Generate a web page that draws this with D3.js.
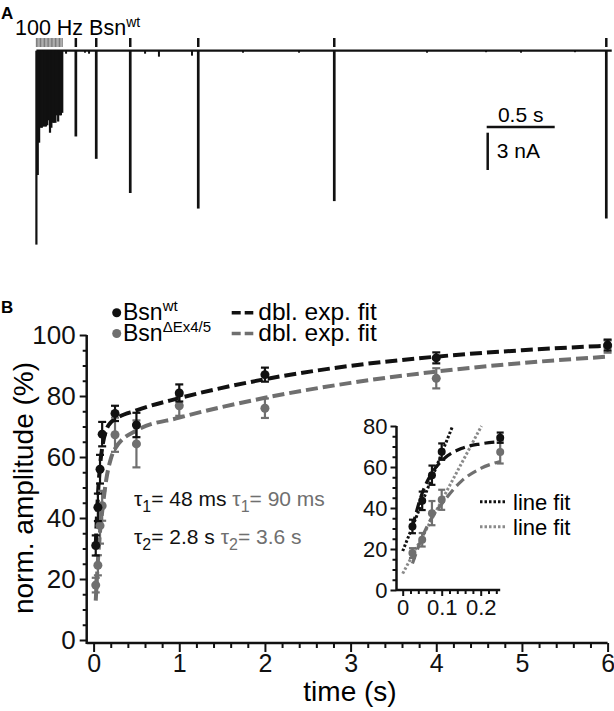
<!DOCTYPE html>
<html><head><meta charset="utf-8">
<script src="https://cdn.jsdelivr.net/npm/d3@7"></script>
<style>
body{margin:0;background:#fff}
svg{display:block}
text{font-family:"Liberation Sans",Arial,Helvetica,sans-serif}
</style>
</head><body>
<svg id="chart" width="614" height="711"></svg>
<script>
// ---------------- Panel A data (trace) ----------------
const trainTimes = [0,0.01,0.02,0.03,0.04,0.05,0.06,0.07,0.08,0.09,0.10,0.11,0.12,0.13,0.14,0.15,0.16,0.17,0.18,0.19];
const trainAmps  = [15.6,10.0,7.4,6.2,6.2,6.1,6.1,6.1,6.0,5.6,6.6,6.2,5.8,5.8,5.8,5.2,5.7,5.2,5.2,5.0];
const recoveryIntervals = [0.1,0.25,0.5,1,2,4];
const recoveryAmps = [6.9,8.7,11.45,12.7,12.1,13.5];
const miniTimes = [0.218,0.357,0.387,0.799,0.901,1.144,1.519,1.931,2.872,3.306,3.563,3.960];
const miniAmps  = [0.24,0.16,0.24,0.24,0.48,0.40,0.16,0.16,0.16,0.12,0.16,0.12];
const traceRange = [0, 4.23];
const scaleBarTime = 0.5, scaleBarCurrent = 3;

// ---------------- Panel B data ----------------
const tPoints = [0.025,0.05,0.075,0.1,0.25,0.5,1,2,4,6];
const wtMean  = [31,43.5,56,67.5,74.3,70.5,81,87,92.5,96.7];
const wtSem   = [3.3,4.5,4.7,4,2.5,4,2.8,2.3,1.8,1.8];
const mutMean = [18,24.5,37.5,44,67.3,64.3,76.8,76,85.8,96.2];
const mutSem  = [2.4,3.3,5.9,4.9,5.6,7.7,3.3,3.2,3.3,2];

const fitT   = [0.025,0.05,0.075,0.1,0.15,0.2,0.25,0.5,1,2,3,4,5,6];
const wtFit  = [30.9,47.3,57.1,63,69,71.3,72.4,75.3,79.3,85.5,89.9,92.9,95,96.5];
const mutFit = [12.9,25.8,35.5,42,53,59.3,62.7,68.7,72.9,79.4,84.3,88,90.8,92.9];

const wtLineT = [0,0.128],  wtLineV = [19,80];
const mutLineT = [0,0.202], mutLineV = [8,80];

const xMajor = [0,1,2,3,4,5,6];
const yMajor = [0,20,40,60,80,100];
const insetXMajor = [0,0.1,0.2];
const insetYMajor = [0,20,40,60,80];

const tauRows = [
  {sub:"1", wt:"= 48 ms", mut:"= 90 ms"},
  {sub:"2", wt:"= 2.8 s", mut:"= 3.6 s"}
];

const BLACK = "#111", GRAY = "#6f6f6f";

const svg = d3.select("#chart");

// ================= Panel A =================
const xA = d3.scaleLinear().domain([0, 4.19]).range([36.4, 606.3]);
const yA = d3.scaleLinear().domain([0, 16]).range([50.7, 50.7 + 16*12.43]);

svg.append("text").attr("x",1).attr("y",19).attr("font-size",17).attr("font-weight","bold").text("A");
const stimLabel = svg.append("text").attr("x",15).attr("y",35).attr("font-size",21.5);
stimLabel.append("tspan").text("100 Hz Bsn");
stimLabel.append("tspan").attr("font-size",14).attr("dy",-8).text("wt");

const gA = svg.append("g");
gA.selectAll("line.train").data(trainTimes).join("line")
  .attr("x1",d=>xA(d)).attr("x2",d=>xA(d)).attr("y1",38).attr("y2",47)
  .attr("stroke","#7a7a7a").attr("stroke-width",1.1);
const lastTrain = trainTimes[trainTimes.length-1];
gA.selectAll("line.rstim").data(recoveryIntervals).join("line")
  .attr("x1",d=>xA(lastTrain+d)).attr("x2",d=>xA(lastTrain+d)).attr("y1",38).attr("y2",47)
  .attr("stroke",BLACK).attr("stroke-width",2.5);

gA.append("line").attr("x1",xA(traceRange[0])).attr("x2",xA(traceRange[1]))
  .attr("y1",yA(0)).attr("y2",yA(0)).attr("stroke",BLACK).attr("stroke-width",2.3);

const events = trainTimes.map((t,i)=>({t, a:trainAmps[i], w:2.2}))
  .concat(recoveryIntervals.map((d,i)=>({t:lastTrain+d, a:recoveryAmps[i], w:2.7})))
  .concat(miniTimes.map((t,i)=>({t, a:miniAmps[i], w:2})));
gA.selectAll("line.ev").data(events).join("line")
  .attr("x1",d=>xA(d.t)).attr("x2",d=>xA(d.t))
  .attr("y1",yA(0)).attr("y2",d=>yA(d.a))
  .attr("stroke",BLACK).attr("stroke-width",d=>d.w);

const sbX = 486.7, sbY = 127;
const pxPerS = xA(1)-xA(0), pxPerNA = yA(1)-yA(0);
gA.append("line").attr("x1",sbX).attr("x2",sbX+scaleBarTime*pxPerS).attr("y1",sbY).attr("y2",sbY)
  .attr("stroke",BLACK).attr("stroke-width",2.5);
gA.append("line").attr("x1",sbX+1).attr("x2",sbX+1).attr("y1",sbY+5.7).attr("y2",sbY+5.7+scaleBarCurrent*pxPerNA)
  .attr("stroke",BLACK).attr("stroke-width",2.5);
gA.append("text").attr("x",sbX+34).attr("y",122).attr("text-anchor","middle").attr("font-size",21).text("0.5 s");
gA.append("text").attr("x",sbX+10).attr("y",158).attr("font-size",21).text("3 nA");

// ================= Panel B =================
svg.append("text").attr("x",1).attr("y",313).attr("font-size",17).attr("font-weight","bold").text("B");

const xB = d3.scaleLinear().domain([0,6]).range([93.6,607.6]);
const yB = d3.scaleLinear().domain([0,100]).range([640,335]);
const gB = svg.append("g");

const axisX0 = 86.7, axisY0 = 643;
gB.append("line").attr("x1",axisX0).attr("x2",axisX0).attr("y1",axisY0+1).attr("y2",yB(100))
  .attr("stroke",BLACK).attr("stroke-width",2.5);
gB.append("line").attr("x1",axisX0).attr("x2",xB(6)).attr("y1",axisY0).attr("y2",axisY0)
  .attr("stroke",BLACK).attr("stroke-width",2.5);

function styleAxis(g, fs){
  g.select(".domain").remove();
  g.selectAll(".tick line").attr("stroke",BLACK).attr("stroke-width",2);
  g.selectAll(".tick text").attr("font-size",fs).attr("fill",BLACK)
   .attr("font-family","'Liberation Sans',Arial,sans-serif");
}
gB.append("g").attr("transform",`translate(${axisX0},0)`)
  .call(d3.axisLeft(yB).tickValues(yMajor).tickSize(7).tickPadding(4).tickFormat(d3.format("d")))
  .call(g=>styleAxis(g,26));
gB.append("g").attr("transform",`translate(${axisX0},0)`)
  .call(d3.axisLeft(yB).tickValues(d3.range(0,101,5).filter(v=>v%20)).tickSize(4).tickFormat(""))
  .call(g=>styleAxis(g,26));
gB.append("g").attr("transform",`translate(0,${axisY0})`)
  .call(d3.axisBottom(xB).tickValues(xMajor).tickSize(9).tickPadding(2).tickFormat(d3.format("d")))
  .call(g=>styleAxis(g,25));
gB.append("g").attr("transform",`translate(0,${axisY0})`)
  .call(d3.axisBottom(xB).tickValues(d3.range(0,30).map(i=>i*0.2).filter(v=>Math.abs(v-Math.round(v))>1e-6)).tickSize(5).tickFormat(""))
  .call(g=>styleAxis(g,25));

gB.append("text").attr("transform","translate(33,488) rotate(-90)").attr("text-anchor","middle")
  .attr("font-size",28).text("norm. amplitude (%)");
gB.append("text").attr("x",350).attr("y",701).attr("text-anchor","middle").attr("font-size",28).text("time (s)");

const fitLine = (xs, ys) => d3.line().x(d=>xs(d[0])).y(d=>ys(d[1])).curve(d3.curveMonotoneX);
gB.append("path").datum(fitT.map((t,i)=>[t,mutFit[i]])).attr("d",fitLine(xB,yB))
  .attr("fill","none").attr("stroke",GRAY).attr("stroke-width",4).attr("stroke-dasharray","12,5");
gB.append("path").datum(fitT.map((t,i)=>[t,wtFit[i]])).attr("d",fitLine(xB,yB))
  .attr("fill","none").attr("stroke",BLACK).attr("stroke-width",4).attr("stroke-dasharray","12,5");

function drawPoints(g, xs, ys, mean, sem, color, r, cap, filterFn){
  const data = tPoints.map((t,i)=>({t, m:mean[i], s:sem[i]})).filter(filterFn);
  const eg = g.append("g").attr("stroke",color).attr("stroke-width",2.2);
  eg.selectAll("line.v").data(data).join("line")
    .attr("x1",d=>xs(d.t)).attr("x2",d=>xs(d.t)).attr("y1",d=>ys(d.m-d.s)).attr("y2",d=>ys(d.m+d.s));
  eg.selectAll("line.top").data(data).join("line")
    .attr("x1",d=>xs(d.t)-cap).attr("x2",d=>xs(d.t)+cap).attr("y1",d=>ys(d.m+d.s)).attr("y2",d=>ys(d.m+d.s));
  eg.selectAll("line.bot").data(data).join("line")
    .attr("x1",d=>xs(d.t)-cap).attr("x2",d=>xs(d.t)+cap).attr("y1",d=>ys(d.m-d.s)).attr("y2",d=>ys(d.m-d.s));
  g.append("g").selectAll("circle").data(data).join("circle")
    .attr("cx",d=>xs(d.t)).attr("cy",d=>ys(d.m)).attr("r",r).attr("fill",color);
}
drawPoints(gB, xB, yB, mutMean, mutSem, GRAY, 4.5, 4, ()=>true);
drawPoints(gB, xB, yB, wtMean, wtSem, BLACK, 4.5, 4, ()=>true);

const legRows = [{y:312.7, color:BLACK, sup:"wt"},{y:333.5, color:GRAY, sup:"\u0394Ex4/5"}];
legRows.forEach(r=>{
  gB.append("circle").attr("cx",116.7).attr("cy",r.y).attr("r",4.5).attr("fill",r.color);
  const t = gB.append("text").attr("x",123).attr("y",r.y+7.5).attr("font-size",23);
  t.append("tspan").text("Bsn");
  t.append("tspan").attr("font-size",15).attr("dy",-9).text(r.sup);
  gB.append("line").attr("x1",231.7).attr("x2",253.3).attr("y1",r.y).attr("y2",r.y)
    .attr("stroke",r.color).attr("stroke-width",3.5).attr("stroke-dasharray","9,4");
  gB.append("text").attr("x",258.3).attr("y",r.y+7.5).attr("font-size",24.5).text("dbl. exp. fit");
});

tauRows.forEach((r,i)=>{
  const t = gB.append("text").attr("x",134).attr("y",506 + i*38).attr("font-size",21);
  t.append("tspan").attr("fill",BLACK).text("\u03c4");
  t.append("tspan").attr("fill",BLACK).attr("font-size",16).attr("dy",6).text(r.sub);
  t.append("tspan").attr("fill",BLACK).attr("dy",-6).text(r.wt + " ");
  t.append("tspan").attr("fill",GRAY).text("\u03c4");
  t.append("tspan").attr("fill",GRAY).attr("font-size",16).attr("dy",6).text(r.sub);
  t.append("tspan").attr("fill",GRAY).attr("dy",-6).text(r.mut);
});

// ================= Inset =================
const xI = d3.scaleLinear().domain([0,0.25]).range([402.7,500.2]);
const yI = d3.scaleLinear().domain([0,80]).range([590,426]);
const gI = svg.append("g");
const insetX0 = 396.5;
gI.append("line").attr("x1",insetX0).attr("x2",insetX0).attr("y1",591).attr("y2",yI(80))
  .attr("stroke",BLACK).attr("stroke-width",2.5);
gI.append("line").attr("x1",insetX0).attr("x2",xI(0.25)).attr("y1",590).attr("y2",590)
  .attr("stroke",BLACK).attr("stroke-width",2.5);
gI.append("g").attr("transform",`translate(${insetX0},0)`)
  .call(d3.axisLeft(yI).tickValues(insetYMajor).tickSize(6).tickPadding(3).tickFormat(d3.format("d")))
  .call(g=>styleAxis(g,22));
gI.append("g").attr("transform",`translate(${insetX0},0)`)
  .call(d3.axisLeft(yI).tickValues(d3.range(0,81,5).filter(v=>v%20)).tickSize(4).tickFormat(""))
  .call(g=>styleAxis(g,22));
gI.append("g").attr("transform","translate(0,590)")
  .call(d3.axisBottom(xI).tickValues(insetXMajor).tickSize(6).tickPadding(3).tickFormat(d=>d===0?"0":d3.format(".1f")(d)))
  .call(g=>styleAxis(g,22));
gI.append("g").attr("transform","translate(0,590)")
  .call(d3.axisBottom(xI).tickValues([0.02,0.04,0.06,0.08,0.12,0.14,0.16,0.18,0.22,0.24]).tickSize(4).tickFormat(""))
  .call(g=>styleAxis(g,22));

gI.append("path").datum(mutLineT.map((t,i)=>[t,mutLineV[i]])).attr("d",d3.line().x(d=>xI(d[0])).y(d=>yI(d[1])))
  .attr("fill","none").attr("stroke","#8a8a8a").attr("stroke-width",3).attr("stroke-dasharray","2.5,2");
gI.append("path").datum(wtLineT.map((t,i)=>[t,wtLineV[i]])).attr("d",d3.line().x(d=>xI(d[0])).y(d=>yI(d[1])))
  .attr("fill","none").attr("stroke",BLACK).attr("stroke-width",3).attr("stroke-dasharray","2.5,2");
const inFit = (arr)=>fitT.map((t,i)=>[t,arr[i]]).filter(d=>d[0]<=0.25);
gI.append("path").datum(inFit(mutFit)).attr("d",fitLine(xI,yI))
  .attr("fill","none").attr("stroke",GRAY).attr("stroke-width",3.2).attr("stroke-dasharray","10,5");
gI.append("path").datum(inFit(wtFit)).attr("d",fitLine(xI,yI))
  .attr("fill","none").attr("stroke",BLACK).attr("stroke-width",3.2).attr("stroke-dasharray","10,5");
drawPoints(gI, xI, yI, mutMean, mutSem, GRAY, 4, 3.5, d=>d.t<=0.25);
drawPoints(gI, xI, yI, wtMean, wtSem, BLACK, 4, 3.5, d=>d.t<=0.25);

[{y:501.7,color:BLACK},{y:526.7,color:"#8a8a8a"}].forEach(r=>{
  gI.append("line").attr("x1",480).attr("x2",505).attr("y1",r.y).attr("y2",r.y)
    .attr("stroke",r.color).attr("stroke-width",3).attr("stroke-dasharray","2.5,2");
  gI.append("text").attr("x",513).attr("y",r.y+8.5).attr("font-size",22).text("line fit");
});
</script>
</body></html>
